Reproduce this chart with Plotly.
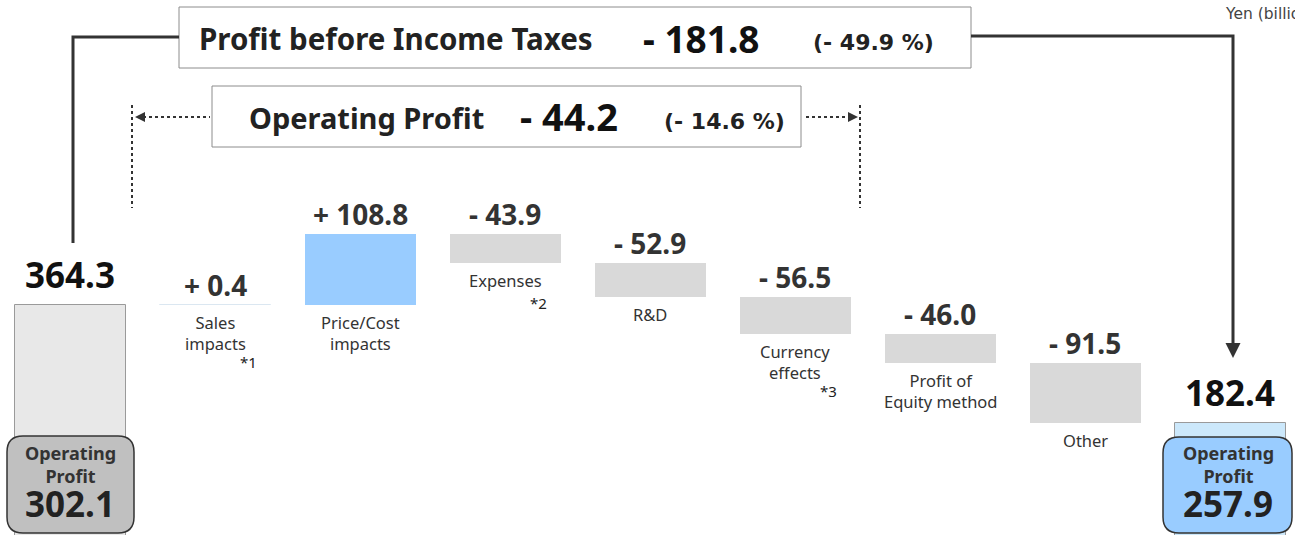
import plotly.graph_objects as go

# ---------------- data ----------------
categories = ["Start", "Sales<br>impacts", "Price/Cost<br>impacts", "Expenses", "R&D",
              "Currency<br>effects", "Profit of<br>Equity method", "Other", "End"]
start_value = 364.3
deltas = [0.4, 108.8, -43.9, -52.9, -56.5, -46.0, -91.5]
end_value = 182.4
delta_labels = ["+ 0.4", "+ 108.8", "- 43.9", "- 52.9", "- 56.5", "- 46.0", "- 91.5"]
footnotes = ["*1", "", "*2", "", "*3", "", ""]
op_start = "302.1"
op_end = "257.9"
pbt_change = ["Profit before Income Taxes", "- 181.8", "(- 49.9 %)"]
op_change = ["Operating Profit", "- 44.2", "(- 14.6 %)"]
unit_label = "Yen (billions)"

W, H = 1295, 535
FONT = "Noto Sans"
WIDE = "DejaVu Sans"
DARK = "#333333"


def px(x):
    return x / W


def py(y):
    return 1 - y / H


# ---------------- bars ----------------
xs = list(range(len(categories)))
bases, heights, colors, lcolors, lwidths = [], [], [], [], []
bases.append(0); heights.append(start_value)
colors.append("#e8e8e8"); lcolors.append("#9a9a9a"); lwidths.append(1)
cum = start_value
tops, bottoms = [], []
for d in deltas:
    bases.append(cum); heights.append(d)
    if d > 0:
        colors.append("#99ccff" if d > 1 else "#dbe7f1")
        lcolors.append("#dbe7f1"); lwidths.append(1 if d <= 1 else 0)
    else:
        colors.append("#d9d9d9"); lcolors.append("#d9d9d9"); lwidths.append(0)
    tops.append(max(cum, cum + d)); bottoms.append(min(cum, cum + d))
    cum += d
bases.append(0); heights.append(end_value)
colors.append("#cce8fb"); lcolors.append("#9a9a9a"); lwidths.append(1)

fig = go.Figure(go.Bar(
    x=xs, y=heights, base=bases, width=0.766,
    marker=dict(color=colors, line=dict(color=lcolors, width=lwidths)),
    hoverinfo="skip",
))

ann = []
# start / end totals
for xi, v in [(0, start_value), (len(categories) - 1, end_value)]:
    ann.append(dict(x=xi, y=v, text=f"<b>{v}</b>", showarrow=False,
                    xanchor="center", yanchor="bottom", yshift=5,
                    font=dict(size=35, color="#111", family=FONT)))

# delta labels, category labels, footnotes
for k, d in enumerate(deltas):
    i = k + 1
    ann.append(dict(x=i, y=tops[k], text=f"<b>{delta_labels[k]}</b>", showarrow=False,
                    xanchor="center", yanchor="bottom", yshift=-1,
                    font=dict(size=28, color=DARK, family=FONT)))
    ann.append(dict(x=i, y=bottoms[k], text=categories[i], showarrow=False,
                    xanchor="center", yanchor="top", yshift=-4,
                    font=dict(size=16.5, color=DARK, family=FONT)))
    if footnotes[k]:
        extra = 45 if "<br>" in categories[i] else 28
        ann.append(dict(x=i + 0.23, y=bottoms[k], text=footnotes[k], showarrow=False,
                        xanchor="center", yanchor="top", yshift=-extra,
                        font=dict(size=15, color="#222", family=FONT)))

shapes = []


def rounded_box(x0, y0, x1, y1, r, fill):
    rx, ry = r / W, r / H
    X0, X1 = px(x0), px(x1)
    Y0, Y1 = py(y1), py(y0)  # Y0 bottom, Y1 top
    path = (f"M {X0+rx},{Y1} L {X1-rx},{Y1} Q {X1},{Y1} {X1},{Y1-ry} "
            f"L {X1},{Y0+ry} Q {X1},{Y0} {X1-rx},{Y0} L {X0+rx},{Y0} "
            f"Q {X0},{Y0} {X0},{Y0+ry} L {X0},{Y1-ry} Q {X0},{Y1} {X0+rx},{Y1} Z")
    shapes.append(dict(type="path", xref="paper", yref="paper", path=path,
                       fillcolor=fill, line=dict(color="#333", width=1.5), layer="above"))


def ptext(cx, cy, text, size, color="#222", family=FONT):
    ann.append(dict(xref="paper", yref="paper", x=px(cx), y=py(cy), text=text, showarrow=False,
                    xanchor="center", yanchor="middle", font=dict(size=size, color=color, family=family)))


rounded_box(7, 436, 134, 533, 16, "#c0c0c0")
rounded_box(1163, 437, 1292, 533, 16, "#99ccff")
for cx, val in [(70, op_start), (1228, op_end)]:
    ptext(cx, 464, "<b>Operating<br>Profit</b>", 18, DARK)
    ptext(cx, 503, f"<b>{val}</b>", 35, "#222")

# top boxes
shapes.append(dict(type="rect", xref="paper", yref="paper", x0=px(179), x1=px(971), y0=py(68), y1=py(7),
                   line=dict(color="#8c8c8c", width=1), fillcolor="white"))
shapes.append(dict(type="rect", xref="paper", yref="paper", x0=px(212), x1=px(801), y0=py(147), y1=py(86),
                   line=dict(color="#8c8c8c", width=1), fillcolor="white"))
ptext(396, 39, f"<b>{pbt_change[0]}</b>", 29.5, "#222")
ptext(701, 39, f"<b>{pbt_change[1]}</b>", 37, "#111")
ptext(873, 43, f"<b>{pbt_change[2]}</b>", 22, "#222", WIDE)
ptext(366, 118, f"<b>{op_change[0]}</b>", 29, "#222")
ptext(569, 116, f"<b>{op_change[1]}</b>", 38, "#111")
ptext(724, 122, f"<b>{op_change[2]}</b>", 22, "#222", WIDE)

# solid connectors
shapes.append(dict(type="path", xref="paper", yref="paper",
                   path=f"M {px(73)},{py(243)} L {px(73)},{py(37)} L {px(179)},{py(37)}",
                   line=dict(color=DARK, width=3)))
shapes.append(dict(type="path", xref="paper", yref="paper",
                   path=f"M {px(971)},{py(36)} L {px(1233)},{py(36)} L {px(1233)},{py(348)}",
                   line=dict(color=DARK, width=3)))
ann.append(dict(xref="paper", yref="paper", x=px(1233), y=py(358), ax=0, ay=-14, text="",
                showarrow=True, arrowhead=2, arrowsize=1, arrowwidth=3, arrowcolor=DARK))

# dotted connectors
for x in (132, 860):
    shapes.append(dict(type="line", xref="paper", yref="paper", x0=px(x), x1=px(x), y0=py(105), y1=py(208),
                       line=dict(color=DARK, width=2, dash="dot")))
shapes.append(dict(type="line", xref="paper", yref="paper", x0=px(143), x1=px(210), y0=py(117), y1=py(117),
                   line=dict(color=DARK, width=2, dash="dot")))
shapes.append(dict(type="line", xref="paper", yref="paper", x0=px(806), x1=px(850), y0=py(117), y1=py(117),
                   line=dict(color=DARK, width=2, dash="dot")))
ann.append(dict(xref="paper", yref="paper", x=px(135), y=py(117), ax=10, ay=0, text="",
                showarrow=True, arrowhead=2, arrowsize=1, arrowwidth=2, arrowcolor=DARK))
ann.append(dict(xref="paper", yref="paper", x=px(858), y=py(117), ax=-10, ay=0, text="",
                showarrow=True, arrowhead=2, arrowsize=1, arrowwidth=2, arrowcolor=DARK))

ann.append(dict(xref="paper", yref="paper", x=px(1223), y=py(14), text=unit_label, showarrow=False,
                xanchor="left", yanchor="middle", font=dict(size=15.5, color="#444", family=WIDE)))

fig.update_layout(
    width=W, height=H, margin=dict(l=0, r=0, t=0, b=0),
    plot_bgcolor="white", paper_bgcolor="white", showlegend=False,
    xaxis=dict(range=[-0.483, 8.448], visible=False, fixedrange=True),
    yaxis=dict(range=[9.7, 834.5], visible=False, fixedrange=True),
    annotations=ann, shapes=shapes, bargap=0,
)

fig.write_html("out.html", config={"displayModeBar": False},
               post_script="document.body.style.margin='0';")
